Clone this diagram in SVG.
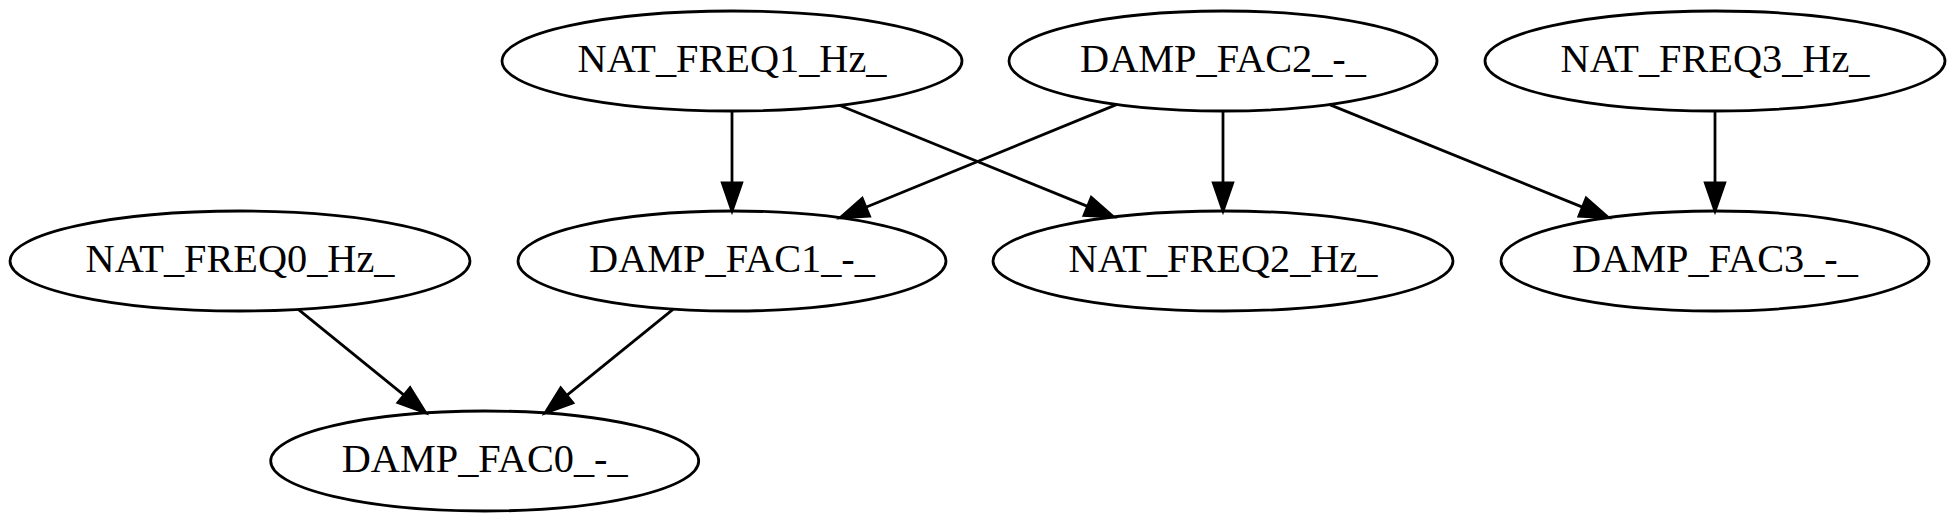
<svg xmlns="http://www.w3.org/2000/svg" width="1956" height="522" viewBox="0 0 1956 522">
<style>
.node ellipse{fill:none;stroke:#000;stroke-width:2.78}
.node text{font-family:"Liberation Serif","Times New Roman",serif;font-size:40.3px;text-anchor:middle;fill:#000}
.edge{fill:none;stroke:#000;stroke-width:2.78;marker-end:url(#arr)}
</style>
<defs>
<marker id="arr" markerUnits="userSpaceOnUse" markerWidth="40" markerHeight="30" refX="0" refY="0" viewBox="-4 -15 40 30" orient="auto" overflow="visible">
<path d="M0,-9.7 L28,0 L0,9.7 Z" fill="#000" stroke="#000" stroke-width="2.78"/>
</marker>
</defs>
<rect width="1956" height="522" fill="#fff"/>
<g id="connectors">
<path class="edge" d="M732,111 L732,183"/>
<path class="edge" d="M839.4,105.2 L1087.6,206.4"/>
<path class="edge" d="M1117,104.4 L865.9,207.2"/>
<path class="edge" d="M1223,111 L1223,183"/>
<path class="edge" d="M1329,104.4 L1582.5,207.1"/>
<path class="edge" d="M1715,111 L1715,183"/>
<path class="edge" d="M298.3,309.4 L404,395.2"/>
<path class="edge" d="M673.3,309.1 L566.8,395.4"/>
</g>
<g id="NAT_FREQ1" class="node"><ellipse cx="732" cy="61" rx="230" ry="50"/><text x="732" y="72">NAT_FREQ1_Hz_</text></g>
<g id="DAMP_FAC2" class="node"><ellipse cx="1223" cy="61" rx="214" ry="50"/><text x="1223" y="72">DAMP_FAC2_-_</text></g>
<g id="NAT_FREQ3" class="node"><ellipse cx="1715" cy="61" rx="230" ry="50"/><text x="1715" y="72">NAT_FREQ3_Hz_</text></g>
<g id="NAT_FREQ0" class="node"><ellipse cx="240" cy="261" rx="230" ry="50"/><text x="240" y="272">NAT_FREQ0_Hz_</text></g>
<g id="DAMP_FAC1" class="node"><ellipse cx="732" cy="261" rx="214" ry="50"/><text x="732" y="272">DAMP_FAC1_-_</text></g>
<g id="NAT_FREQ2" class="node"><ellipse cx="1223" cy="261" rx="230" ry="50"/><text x="1223" y="272">NAT_FREQ2_Hz_</text></g>
<g id="DAMP_FAC3" class="node"><ellipse cx="1715" cy="261" rx="214" ry="50"/><text x="1715" y="272">DAMP_FAC3_-_</text></g>
<g id="DAMP_FAC0" class="node"><ellipse cx="484.7" cy="461" rx="214" ry="50"/><text x="484.7" y="472">DAMP_FAC0_-_</text></g>
</svg>
